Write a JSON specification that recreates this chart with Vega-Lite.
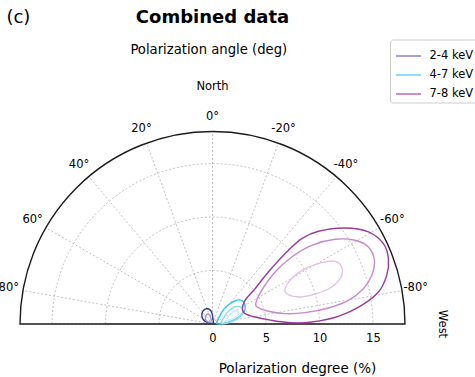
{
  "$schema": "https://vega.github.io/schema/vega-lite/v6.json",
  "width": 385,
  "height": 192.5,
  "autosize": {"type": "none"},
  "padding": {"left": 20, "top": 131.5, "right": 70, "bottom": 53},
  "background": "white",
  "config": {
    "view": {"stroke": null},
    "font": "DejaVu Sans",
    "text": {"font": "DejaVu Sans", "color": "black"}
  },
  "encoding": {
    "x": {
      "field": "x", "type": "quantitative",
      "scale": {"domain": [-18, 18], "nice": false, "zero": false},
      "axis": {
        "values": [0, 5, 10, 15], "ticks": false, "domain": false, "grid": false,
        "labelFontSize": 11.5, "labelPadding": 8.6, "labelColor": "black", "labelFont": "DejaVu Sans", "labelFlush": false,
        "title": "Polarization degree (%)", "titleFont": "DejaVu Sans", "titleFontSize": 13.5, "titleFontWeight": "normal",
        "titleColor": "black", "titleX": 277, "titleY": 48.9, "titleBaseline": "alphabetic", "titleAlign": "center"
      }
    },
    "y": {
      "field": "y", "type": "quantitative",
      "scale": {"domain": [0, 18], "nice": false, "zero": false},
      "axis": null
    }
  },
  "layer": [
    {
      "data": {"values": [
        {"x": 0, "y": 0, "r": 5, "from": -90, "to": 90},
        {"x": 0, "y": 0, "r": 10, "from": -90, "to": 90},
        {"x": 0, "y": 0, "r": 15, "from": -90, "to": 90}
      ]},
      "mark": {"type": "arc", "filled": false, "stroke": "#b0b0b0", "strokeWidth": 0.8, "strokeDash": [2, 2]},
      "encoding": {
        "theta": {"field": "from", "type": "quantitative", "stack": null, "scale": {"domain": [-180, 180], "range": [-3.14159265, 3.14159265]}},
        "theta2": {"field": "to"},
        "radius": {"field": "r", "type": "quantitative", "scale": {"type": "linear", "domain": [0, 18], "range": [0, 192.5], "zero": true}}
      }
    },
    {
      "data": {"values": [
        {"x": 0, "y": 0, "x2": -17.727, "y2": 3.126},
        {"x": 0, "y": 0, "x2": -15.588, "y2": 9.0},
        {"x": 0, "y": 0, "x2": -11.570, "y2": 13.789},
        {"x": 0, "y": 0, "x2": -6.156, "y2": 16.914},
        {"x": 0, "y": 0, "x2": 0, "y2": 18},
        {"x": 0, "y": 0, "x2": 6.156, "y2": 16.914},
        {"x": 0, "y": 0, "x2": 11.570, "y2": 13.789},
        {"x": 0, "y": 0, "x2": 15.588, "y2": 9.0},
        {"x": 0, "y": 0, "x2": 17.727, "y2": 3.126}
      ]},
      "mark": {"type": "rule", "stroke": "#b0b0b0", "strokeWidth": 0.8, "strokeDash": [2, 2]},
      "encoding": {
        "x2": {"field": "x2"},
        "y2": {"field": "y2"}
      }
    },
    {
      "data": {"values": [
        {"x": 0, "y": 0, "r": 18, "from": -90, "to": 90}
      ]},
      "mark": {"type": "arc", "filled": false, "stroke": "#1a1a1a", "strokeWidth": 1.4},
      "encoding": {
        "theta": {"field": "from", "type": "quantitative", "stack": null, "scale": {"domain": [-180, 180], "range": [-3.14159265, 3.14159265]}},
        "theta2": {"field": "to"},
        "radius": {"field": "r", "type": "quantitative", "scale": {"type": "linear", "domain": [0, 18], "range": [0, 192.5], "zero": true}}
      }
    },
    {
      "data": {"values": [
        {"contour": "2-4 keV outer", "i": 1, "x": 0.05, "y": 0.05},
        {"contour": "2-4 keV outer", "i": 2, "x": -0.45, "y": 0.12},
        {"contour": "2-4 keV outer", "i": 3, "x": -0.85, "y": 0.4},
        {"contour": "2-4 keV outer", "i": 4, "x": -1.0, "y": 0.8},
        {"contour": "2-4 keV outer", "i": 5, "x": -0.88, "y": 1.22},
        {"contour": "2-4 keV outer", "i": 6, "x": -0.55, "y": 1.42},
        {"contour": "2-4 keV outer", "i": 7, "x": -0.22, "y": 1.3},
        {"contour": "2-4 keV outer", "i": 8, "x": -0.03, "y": 0.95},
        {"contour": "2-4 keV outer", "i": 9, "x": 0.05, "y": 0.45},
        {"contour": "2-4 keV inner", "i": 1, "x": -0.15, "y": 0.2},
        {"contour": "2-4 keV inner", "i": 2, "x": -0.5, "y": 0.22},
        {"contour": "2-4 keV inner", "i": 3, "x": -0.68, "y": 0.6},
        {"contour": "2-4 keV inner", "i": 4, "x": -0.52, "y": 0.9},
        {"contour": "2-4 keV inner", "i": 5, "x": -0.3, "y": 0.88},
        {"contour": "2-4 keV inner", "i": 6, "x": -0.14, "y": 0.5},
        {"contour": "4-7 keV outer", "i": 1, "x": 0.39, "y": 0.05},
        {"contour": "4-7 keV outer", "i": 2, "x": 0.6, "y": 0.6},
        {"contour": "4-7 keV outer", "i": 3, "x": 1.0, "y": 1.3},
        {"contour": "4-7 keV outer", "i": 4, "x": 1.5, "y": 1.8},
        {"contour": "4-7 keV outer", "i": 5, "x": 2.2, "y": 2.2},
        {"contour": "4-7 keV outer", "i": 6, "x": 2.75, "y": 2.2},
        {"contour": "4-7 keV outer", "i": 7, "x": 3.05, "y": 1.75},
        {"contour": "4-7 keV outer", "i": 8, "x": 2.95, "y": 1.15},
        {"contour": "4-7 keV outer", "i": 9, "x": 2.4, "y": 0.6},
        {"contour": "4-7 keV outer", "i": 10, "x": 1.6, "y": 0.2},
        {"contour": "4-7 keV outer", "i": 11, "x": 0.9, "y": 0.03},
        {"contour": "4-7 keV middle", "i": 1, "x": 0.8, "y": 0.06},
        {"contour": "4-7 keV middle", "i": 2, "x": 1.05, "y": 0.6},
        {"contour": "4-7 keV middle", "i": 3, "x": 1.42, "y": 1.12},
        {"contour": "4-7 keV middle", "i": 4, "x": 2.05, "y": 1.59},
        {"contour": "4-7 keV middle", "i": 5, "x": 2.67, "y": 1.59},
        {"contour": "4-7 keV middle", "i": 6, "x": 2.83, "y": 1.12},
        {"contour": "4-7 keV middle", "i": 7, "x": 2.36, "y": 0.5},
        {"contour": "4-7 keV middle", "i": 8, "x": 1.5, "y": 0.12},
        {"contour": "4-7 keV inner", "i": 1, "x": 1.27, "y": 0.34},
        {"contour": "4-7 keV inner", "i": 2, "x": 1.89, "y": 1.12},
        {"contour": "4-7 keV inner", "i": 3, "x": 2.36, "y": 1.19},
        {"contour": "4-7 keV inner", "i": 4, "x": 2.36, "y": 0.81},
        {"contour": "4-7 keV inner", "i": 5, "x": 1.73, "y": 0.45},
        {"contour": "7-8 keV outer", "i": 1, "x": 2.79, "y": 1.37},
        {"contour": "7-8 keV outer", "i": 2, "x": 3.04, "y": 2.21},
        {"contour": "7-8 keV outer", "i": 3, "x": 3.98, "y": 3.30},
        {"contour": "7-8 keV outer", "i": 4, "x": 5.22, "y": 4.86},
        {"contour": "7-8 keV outer", "i": 5, "x": 6.78, "y": 6.58},
        {"contour": "7-8 keV outer", "i": 6, "x": 8.34, "y": 7.98},
        {"contour": "7-8 keV outer", "i": 7, "x": 9.90, "y": 8.67},
        {"contour": "7-8 keV outer", "i": 8, "x": 12.39, "y": 8.98},
        {"contour": "7-8 keV outer", "i": 9, "x": 14.58, "y": 8.61},
        {"contour": "7-8 keV outer", "i": 10, "x": 15.98, "y": 7.51},
        {"contour": "7-8 keV outer", "i": 11, "x": 16.45, "y": 6.11},
        {"contour": "7-8 keV outer", "i": 12, "x": 16.29, "y": 4.55},
        {"contour": "7-8 keV outer", "i": 13, "x": 15.51, "y": 2.99},
        {"contour": "7-8 keV outer", "i": 14, "x": 13.95, "y": 1.75},
        {"contour": "7-8 keV outer", "i": 15, "x": 11.77, "y": 0.72},
        {"contour": "7-8 keV outer", "i": 16, "x": 9.28, "y": 0.19},
        {"contour": "7-8 keV outer", "i": 17, "x": 7.41, "y": 0.12},
        {"contour": "7-8 keV outer", "i": 18, "x": 5.54, "y": 0.34},
        {"contour": "7-8 keV outer", "i": 19, "x": 3.98, "y": 0.65},
        {"contour": "7-8 keV outer", "i": 20, "x": 3.04, "y": 0.97},
        {"contour": "7-8 keV middle", "i": 1, "x": 4.04, "y": 1.90},
        {"contour": "7-8 keV middle", "i": 2, "x": 4.60, "y": 3.15},
        {"contour": "7-8 keV middle", "i": 3, "x": 5.85, "y": 4.86},
        {"contour": "7-8 keV middle", "i": 4, "x": 7.41, "y": 6.27},
        {"contour": "7-8 keV middle", "i": 5, "x": 9.28, "y": 7.36},
        {"contour": "7-8 keV middle", "i": 6, "x": 11.46, "y": 7.92},
        {"contour": "7-8 keV middle", "i": 7, "x": 13.33, "y": 7.83},
        {"contour": "7-8 keV middle", "i": 8, "x": 14.58, "y": 7.20},
        {"contour": "7-8 keV middle", "i": 9, "x": 15.14, "y": 5.96},
        {"contour": "7-8 keV middle", "i": 10, "x": 14.89, "y": 4.55},
        {"contour": "7-8 keV middle", "i": 11, "x": 14.11, "y": 3.30},
        {"contour": "7-8 keV middle", "i": 12, "x": 12.71, "y": 2.21},
        {"contour": "7-8 keV middle", "i": 13, "x": 10.84, "y": 1.50},
        {"contour": "7-8 keV middle", "i": 14, "x": 8.65, "y": 1.06},
        {"contour": "7-8 keV middle", "i": 15, "x": 6.78, "y": 0.97},
        {"contour": "7-8 keV middle", "i": 16, "x": 5.22, "y": 1.19},
        {"contour": "7-8 keV middle", "i": 17, "x": 4.29, "y": 1.53},
        {"contour": "7-8 keV inner", "i": 1, "x": 6.78, "y": 3.30},
        {"contour": "7-8 keV inner", "i": 2, "x": 7.56, "y": 4.40},
        {"contour": "7-8 keV inner", "i": 3, "x": 8.81, "y": 5.24},
        {"contour": "7-8 keV inner", "i": 4, "x": 10.21, "y": 5.74},
        {"contour": "7-8 keV inner", "i": 5, "x": 11.46, "y": 5.86},
        {"contour": "7-8 keV inner", "i": 6, "x": 12.08, "y": 5.33},
        {"contour": "7-8 keV inner", "i": 7, "x": 12.02, "y": 4.40},
        {"contour": "7-8 keV inner", "i": 8, "x": 11.15, "y": 3.46},
        {"contour": "7-8 keV inner", "i": 9, "x": 9.74, "y": 2.84},
        {"contour": "7-8 keV inner", "i": 10, "x": 8.19, "y": 2.53},
        {"contour": "7-8 keV inner", "i": 11, "x": 7.09, "y": 2.74}
      ]},
      "mark": {"type": "line", "interpolate": "cardinal-closed", "strokeWidth": 1.4},
      "encoding": {
        "order": {"field": "i", "type": "quantitative"},
        "stroke": {
          "field": "contour", "type": "nominal", "legend": null,
          "scale": {
            "domain": ["2-4 keV outer", "2-4 keV inner", "4-7 keV outer", "4-7 keV middle", "4-7 keV inner", "7-8 keV outer", "7-8 keV middle", "7-8 keV inner"],
            "range": ["#34308c", "#9a96cc", "#34c6f3", "#8edcf6", "#c4eefa", "#9a3a9a", "#c88ac8", "#e4c2e4"]
          }
        }
      }
    },
    {
      "data": {"values": [
        {"band": "2-4 keV", "x": 0, "y": 0},
        {"band": "4-7 keV", "x": 0, "y": 0},
        {"band": "7-8 keV", "x": 0, "y": 0}
      ]},
      "mark": {"type": "line"},
      "encoding": {
        "color": {
          "field": "band", "type": "nominal",
          "scale": {"domain": ["2-4 keV", "4-7 keV", "7-8 keV"], "range": ["#8882c6", "#66d4f6", "#b868b8"]},
          "legend": {
            "orient": "none", "legendX": 370, "legendY": -92, "title": null,
            "symbolType": "stroke", "symbolSize": 625, "symbolStrokeWidth": 1.5, "symbolOffset": 2,
            "labelFontSize": 11.5, "labelFont": "DejaVu Sans", "labelColor": "black", "labelOffset": 7.5,
            "rowPadding": -2.4, "padding": 3, "strokeColor": "#cccccc", "fillColor": "white", "cornerRadius": 3
          }
        }
      }
    },
    {
      "data": {"values": [
        {"x": 0, "y": 19.4, "label": "0°"},
        {"x": -6.64, "y": 18.25, "label": "20°"},
        {"x": -12.48, "y": 14.88, "label": "40°"},
        {"x": -16.82, "y": 9.71, "label": "60°"},
        {"x": -19.05, "y": 3.37, "label": "80°"},
        {"x": 6.64, "y": 18.25, "label": "-20°"},
        {"x": 12.48, "y": 14.88, "label": "-40°"},
        {"x": 16.82, "y": 9.71, "label": "-60°"},
        {"x": 19.0, "y": 3.37, "label": "-80°"},
        {"x": 0, "y": 22.17, "label": "North"}
      ]},
      "mark": {"type": "text", "fontSize": 11.5, "align": "center", "baseline": "middle"},
      "encoding": {"text": {"field": "label"}}
    },
    {
      "data": {"values": [{"x": 21.5, "y": 0, "label": "West"}]},
      "mark": {"type": "text", "fontSize": 11.5, "align": "center", "baseline": "middle", "angle": 90},
      "encoding": {"text": {"field": "label"}}
    },
    {
      "data": {"values": [{"x": -0.35, "y": 25.26, "label": "Polarization angle (deg)"}]},
      "mark": {"type": "text", "fontSize": 13.2, "align": "center", "baseline": "alphabetic"},
      "encoding": {"text": {"field": "label"}}
    },
    {
      "data": {"values": [{"x": 0, "y": 28.13, "label": "Combined data"}]},
      "mark": {"type": "text", "fontSize": 18, "fontWeight": "bold", "align": "center", "baseline": "alphabetic"},
      "encoding": {"text": {"field": "label"}}
    },
    {
      "data": {"values": [{"x": -19.27, "y": 28.13, "label": "(c)"}]},
      "mark": {"type": "text", "fontSize": 18, "align": "left", "baseline": "alphabetic"},
      "encoding": {"text": {"field": "label"}}
    }
  ]
}
